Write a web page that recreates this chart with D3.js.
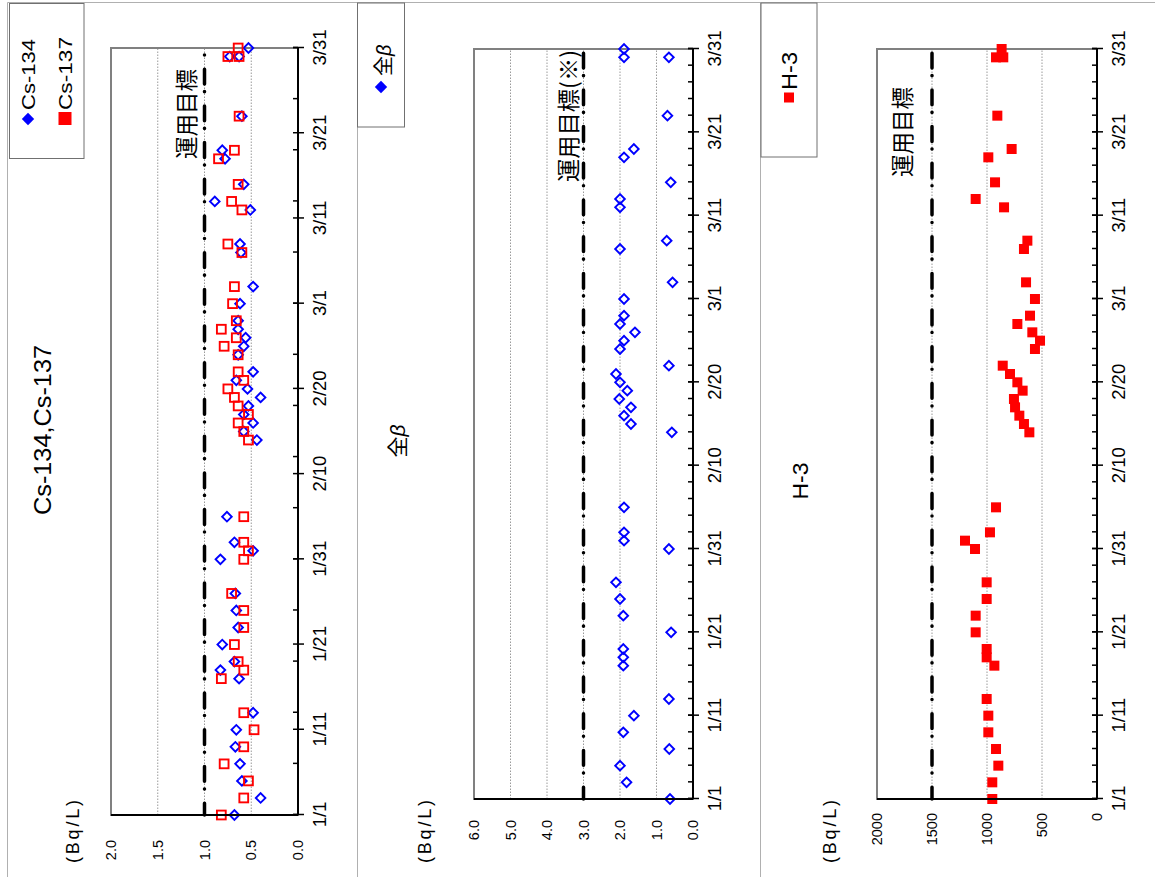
<!DOCTYPE html>
<html><head><meta charset="utf-8">
<script src="https://cdn.jsdelivr.net/npm/d3@7"></script>
<style>
body{margin:0;background:#fff;}
svg{display:block;background:#fff;}
</style></head><body>
<svg id="chart" width="1155" height="877"></svg>
<script>
// ---------- data ----------
const sampleDates = ["2016-01-01","2016-01-03","2016-01-05","2016-01-07","2016-01-09","2016-01-11","2016-01-13",
  "2016-01-17","2016-01-18","2016-01-19","2016-01-21","2016-01-23","2016-01-25","2016-01-27",
  "2016-01-31","2016-02-01","2016-02-02","2016-02-05",
  "2016-02-14","2016-02-15","2016-02-16","2016-02-17","2016-02-18","2016-02-19","2016-02-20","2016-02-21","2016-02-22",
  "2016-02-24","2016-02-25","2016-02-26","2016-02-27","2016-02-28",
  "2016-03-01","2016-03-03","2016-03-07","2016-03-08","2016-03-12","2016-03-13","2016-03-15",
  "2016-03-18","2016-03-19","2016-03-23","2016-03-30","2016-03-30","2016-03-31"];
const cs134 = [0.68,0.40,0.60,0.62,0.67,0.66,0.48, 0.63,0.83,0.68,0.81,0.64,0.66,0.67,
  0.83,0.48,0.68,0.76, 0.44,0.58,0.48,0.58,0.53,0.40,0.54,0.66,0.48,
  0.64,0.58,0.56,0.64,0.64, 0.62,0.48,0.61,0.62,0.51,0.89,0.58, 0.78,0.81,0.60,0.73,0.63,0.53];
const cs137 = [0.82,0.58,0.53,0.79,0.58,0.47,0.58, 0.82,0.58,0.64,0.68,0.58,0.58,0.71,
  0.58,0.53,0.58,0.58, 0.53,0.58,0.64,0.53,0.64,0.68,0.75,0.58,0.64,
  0.64,0.79,0.66,0.82,0.66, 0.70,0.68,0.60,0.75,0.60,0.71,0.64, 0.85,0.68,0.63,0.75,0.63,0.64];
const grossBeta = [0.63,1.82,2.00,0.65,1.91,1.62,0.66, 1.91,1.91,1.91,0.60,1.91,2.00,2.11,
  0.66,1.89,1.89,1.89, 0.58,1.70,1.89,1.70,2.02,1.80,2.00,2.11,0.66,
  2.00,1.89,1.59,2.00,1.89, 1.89,0.56,2.00,0.72,2.00,2.00,0.61, 1.89,1.62,0.70,1.89,0.66,1.89];
const tritium = [952,952,897,918,988,988,1003, 933,1003,1003,1103,1103,1003,1003,
  1109,1200,973,918, 615,664,706,745,755,676,724,791,857,
  564,518,588,724,609, 564,645,664,633,845,1103,927, 988,776,906,918,852,867];

const dateTickLabels = ["1/1","1/11","1/21","1/31","2/10","2/20","3/1","3/11","3/21","3/31"];
const csTicks = [0,0.5,1.0,1.5,2.0];
const betaTicks = [0,1,2,3,4,5,6];
const h3Ticks = [0,500,1000,1500,2000];
const csTarget = 1.0, betaTarget = 3.0, h3Target = 1500;
const seriesNames = ["Cs-134","Cs-137","全β","H-3"];
const panelTitles = ["Cs-134,Cs-137","全β","H-3"];
const targetLabels = ["運用目標","運用目標(※)","運用目標"];
const unitLabel = "(Bq/L)";

// ---------- setup ----------
const LAT = '"Liberation Sans", Arial, sans-serif';
const JP = '"Noto Sans CJK JP", "Noto Sans CJK SC", sans-serif';
const BLUE = "#0000ff", RED = "#ff0000";
const parse = d3.timeParse("%Y-%m-%d");
const dates = sampleDates.map(parse);
const start = parse("2016-01-01"), end = parse("2016-03-31");
const tickDates = dateTickLabels.map(s => d3.timeParse("%m/%d/%Y")(s + "/2016"));

const svg = d3.select("#chart");
// outer panel borders (page coordinates)
const border = "#b0b0b0";
svg.append("line").attr("x1",7.5).attr("x2",1155).attr("y1",2.5).attr("y2",2.5).attr("stroke",border);
[7.5,357.5,760.5].forEach(x=>svg.append("line").attr("x1",x).attr("x2",x).attr("y1",2.5).attr("y2",877).attr("stroke",border));

// everything else is drawn in a rotated frame (chart was turned 90° counter-clockwise)
const root = svg.append("g").attr("transform","translate(0,877) rotate(-90)");

function diamond(r){ return d3.symbol().type(d3.symbolSquare).size(2*r*r)(); }

const panels = [
  { xr:[62,829], yr:[298,111], ticks:csTicks, fmt:d3.format(".1f"), max:2, target:csTarget,
    tLabel:targetLabels[0], tCx:763, tBase:195, tLen:null, minor:6, valEnd:37,
    unitBase:79, title:panelTitles[0], titleCx:447, titleBase:51, titleSize:24, titleLen:170,
    series:[{v:cs134, shape:"diamond", color:BLUE},{v:cs137, shape:"square", color:RED}] },
  { xr:[78,828], yr:[693,474], ticks:betaTicks, fmt:d3.format(".1f"), max:6, target:betaTarget,
    tLabel:targetLabels[1], tCx:761, tBase:577, tLen:132, minor:2, valEnd:57,
    unitBase:431, title:panelTitles[1], titleCx:436, titleBase:405, titleSize:21, titleLen:null,
    series:[{v:grossBeta, shape:"diamond", color:BLUE}] },
  { xr:[78,828], yr:[1097,877], ticks:h3Ticks, fmt:d3.format("d"), max:2000, target:h3Target,
    tLabel:targetLabels[2], tCx:745, tBase:911, tLen:null, minor:2, valEnd:64,
    unitBase:836, title:panelTitles[2], titleCx:396, titleBase:808, titleSize:22, titleLen:37,
    series:[{v:tritium, shape:"filled", color:RED}] }
];

panels.forEach(p => {
  const g = root.append("g");
  const x = d3.scaleTime().domain([start,end]).range(p.xr);
  const y = d3.scaleLinear().domain([0,p.max]).range(p.yr);
  const x0 = p.xr[0], x1 = p.xr[1], yb = p.yr[0], yt = p.yr[1];

  // gridlines
  g.selectAll(".grid").data(p.ticks.filter(t => t>0 && t<p.max)).enter().append("line")
    .attr("x1",x0).attr("x2",x1).attr("y1",d=>y(d)).attr("y2",d=>y(d))
    .attr("stroke","#9a9a9a").attr("stroke-width",1).attr("stroke-dasharray","1.5,1.5");
  // plot frame
  g.append("rect").attr("x",x0).attr("y",yt).attr("width",x1-x0).attr("height",yb-yt)
    .attr("fill","none").attr("stroke","#808080").attr("stroke-width",2);

  // target line
  g.append("line").attr("x1",x0).attr("x2",x1).attr("y1",y(p.target)).attr("y2",y(p.target))
    .attr("stroke","#000").attr("stroke-width",3.5).attr("stroke-linecap","round")
    .attr("stroke-dasharray","14.8 14.2 0.1 7.6").attr("stroke-dashoffset",3);
  const tl = g.append("text").attr("x",p.tCx).attr("y",p.tBase).attr("text-anchor","middle")
    .attr("font-family",JP).attr("font-size",22.5).attr("fill","#000").text(p.tLabel);
  if (p.tLen) tl.attr("textLength",p.tLen).attr("lengthAdjust","spacingAndGlyphs");

  // points
  p.series.forEach(s => {
    const pts = g.append("g");
    s.v.forEach((val,i) => {
      const cx = x(dates[i]), cy = y(val);
      if (s.shape==="diamond") {
        pts.append("path").attr("d",diamond(4.8)).attr("transform",`translate(${cx},${cy}) rotate(45)`)
          .attr("fill","none").attr("stroke",s.color).attr("stroke-width",1.9);
      } else if (s.shape==="square") {
        pts.append("rect").attr("x",cx-4.4).attr("y",cy-4.4).attr("width",8.8).attr("height",8.8)
          .attr("fill","none").attr("stroke",s.color).attr("stroke-width",1.9);
      } else {
        pts.append("rect").attr("x",cx-5).attr("y",cy-5).attr("width",10).attr("height",10)
          .attr("fill",s.color);
      }
    });
  });

  // axis lines
  g.append("line").attr("x1",x0).attr("x2",x1).attr("y1",yb).attr("y2",yb).attr("stroke","#000").attr("stroke-width",2);
  g.append("line").attr("x1",x0).attr("x2",x0).attr("y1",yt).attr("y2",yb).attr("stroke","#000").attr("stroke-width",2);

  // date axis: major ticks with labels (outside)
  const ax = g.append("g").attr("transform",`translate(0,${yb})`)
    .call(d3.axisBottom(x).tickValues(tickDates).tickSize(6).tickPadding(9).tickFormat((d,i)=>dateTickLabels[i]));
  ax.select(".domain").remove();
  ax.selectAll("line").attr("stroke","#000").attr("stroke-width",1.5);
  ax.selectAll("text").attr("font-family",LAT).attr("font-size",18.5).attr("fill","#000");
  // inside ticks (minor + major)
  const minorDates = d3.range(0,91,p.minor).map(k=>d3.timeDay.offset(start,k)).concat(tickDates);
  const ax2 = g.append("g").attr("transform",`translate(0,${yb})`)
    .call(d3.axisBottom(x).tickValues(minorDates).tickSize(-5).tickFormat(""));
  ax2.select(".domain").remove();
  ax2.selectAll("line").attr("stroke","#000").attr("stroke-width",1.5);

  // value labels
  const ay = g.append("g").attr("transform",`translate(${p.valEnd},0)`)
    .call(d3.axisLeft(y).tickValues(p.ticks).tickSize(0).tickPadding(0).tickFormat(p.fmt));
  ay.select(".domain").remove();
  ay.selectAll("text").attr("font-family",LAT).attr("font-size",14.5).attr("fill","#000");

  // unit
  g.append("text").attr("x",45.5).attr("y",p.unitBase).attr("text-anchor","middle")
    .attr("font-family",LAT).attr("font-size",18).attr("textLength",63).attr("lengthAdjust","spacing").text(unitLabel);

  // title
  const tt = g.append("text").attr("x",p.titleCx).attr("y",p.titleBase).attr("text-anchor","middle")
    .attr("font-family",LAT).attr("font-size",p.titleSize).attr("fill","#000");
  if (p.title === "全β") {
    tt.append("tspan").attr("font-family",JP).text("全");
    tt.append("tspan").attr("font-style","italic").text("β");
  } else tt.text(p.title);
  if (p.titleLen) tt.attr("textLength",p.titleLen).attr("lengthAdjust","spacingAndGlyphs");
});

// ---------- legends ----------
const lg = root.append("g");
// panel 1
lg.append("rect").attr("x",718.5).attr("y",9.5).attr("width",155).attr("height",74.5).attr("fill","#fff").attr("stroke","#707070");
lg.append("path").attr("d",diamond(6.2)).attr("transform","translate(758,28) rotate(45)").attr("fill",BLUE);
lg.append("text").attr("x",767).attr("y",35).attr("font-family",LAT).attr("font-size",17.5)
  .attr("textLength",71).attr("lengthAdjust","spacingAndGlyphs").text(seriesNames[0]);
lg.append("rect").attr("x",752).attr("y",58.5).attr("width",13).attr("height",13).attr("fill",RED);
lg.append("text").attr("x",767).attr("y",72).attr("font-family",LAT).attr("font-size",17.5)
  .attr("textLength",73).attr("lengthAdjust","spacingAndGlyphs").text(seriesNames[1]);
// panel 2
lg.append("rect").attr("x",750).attr("y",357.5).attr("width",124).attr("height",47).attr("fill","#fff").attr("stroke","#707070");
lg.append("path").attr("d",diamond(6.2)).attr("transform","translate(790,381) rotate(45)").attr("fill",BLUE);
const lb = lg.append("text").attr("x",801).attr("y",391).attr("font-size",20);
lb.append("tspan").attr("font-family",JP).text("全");
lb.append("tspan").attr("font-family",LAT).attr("font-style","italic").text("β");
// panel 3
lg.append("rect").attr("x",720).attr("y",761).attr("width",154).attr("height",56).attr("fill","#fff").attr("stroke","#707070");
lg.append("rect").attr("x",774.5).attr("y",784).attr("width",10).attr("height",10).attr("fill",RED);
lg.append("text").attr("x",787).attr("y",797).attr("font-family",LAT).attr("font-size",22)
  .attr("textLength",38).attr("lengthAdjust","spacingAndGlyphs").text(seriesNames[3]);
</script>
</body></html>
